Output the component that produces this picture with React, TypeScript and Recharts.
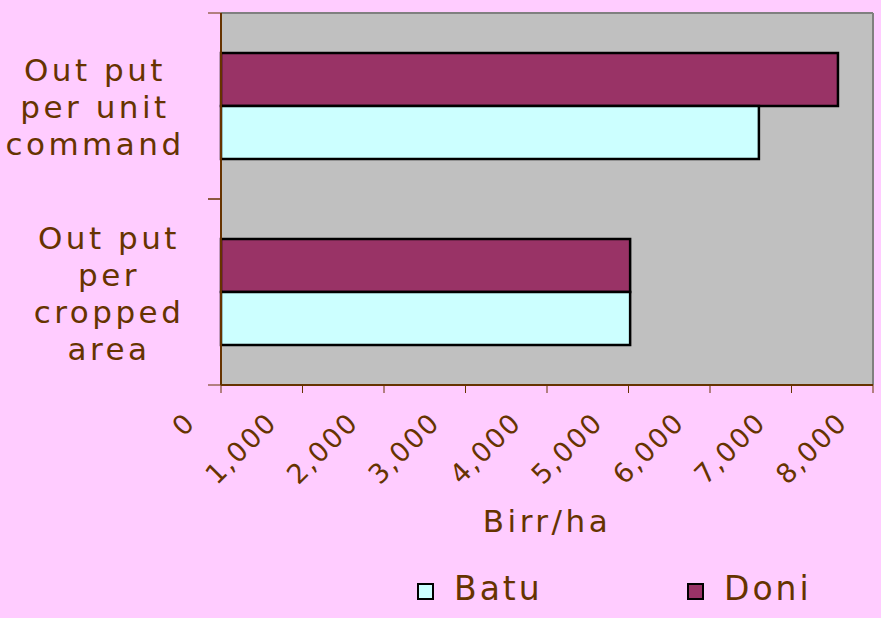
import { BarChart, Bar, XAxis, YAxis, Legend, CartesianGrid } from "recharts";

const CATEGORIES = ["Out put\nper unit\ncommand", "Out put\nper\ncropped\narea"];
const BATU = [6600, 5020];
const DONI = [7570, 5020];
const X_TICKS = [0, 1000, 2000, 3000, 4000, 5000, 6000, 7000, 8000];

const data = CATEGORIES.map((name, i) => ({ name, batu: BATU[i], doni: DONI[i] }));

const TEXT = "#663300";
const FONT = "'DejaVu Sans', Verdana, sans-serif";
const CHART_H = 618;
const MARGIN_TOP = 13;
const X_AXIS_H = 233;
const BAND = (CHART_H - MARGIN_TOP - X_AXIS_H) / CATEGORIES.length;

const XTick = ({ x, y, payload }: any) => (
  <text
    x={x - 24}
    y={y + 29}
    transform={`rotate(-45, ${x - 24}, ${y + 29})`}
    textAnchor="end"
    fill={TEXT}
    fontSize={27}
    letterSpacing={2}
    fontFamily={FONT}
  >
    {payload.value.toLocaleString("en-US")}
  </text>
);

const YTick = ({ y, payload, index }: any) => {
  const lines = String(payload.value).split("\n");
  const cx = index === 0 ? 95 : 109;
  return (
    <g>
      <line x1={208} x2={221} y1={y - BAND / 2} y2={y - BAND / 2} stroke={TEXT} />
      <line x1={208} x2={221} y1={y + BAND / 2} y2={y + BAND / 2} stroke={TEXT} />
      <text textAnchor="middle" fill={TEXT} fontSize={31} letterSpacing={3.5} fontFamily={FONT}>
        {lines.map((l, i) => (
          <tspan key={i} x={cx} y={y + (i - (lines.length - 1) / 2) * 37 + 12}>
            {l}
          </tspan>
        ))}
      </text>
    </g>
  );
};

const LegendBox = () => (
  <div style={{ position: "relative", height: 50, fontFamily: FONT, color: TEXT, fontSize: 33, letterSpacing: 3 }}>
    <span style={{ position: "absolute", left: 417, top: 17, width: 13, height: 13, background: "#ccffff", border: "2px solid #000" }} />
    <span style={{ position: "absolute", left: 454, top: 3, lineHeight: "40px" }}>Batu</span>
    <span style={{ position: "absolute", left: 687, top: 17, width: 13, height: 13, background: "#993366", border: "2px solid #000" }} />
    <span style={{ position: "absolute", left: 724, top: 3, lineHeight: "40px" }}>Doni</span>
  </div>
);

export default function App() {
  return (
    <div style={{ position: "absolute", left: 0, top: 0, width: 881, height: CHART_H, background: "#ffccff" }}>
      <BarChart
        width={881}
        height={CHART_H}
        data={data}
        layout="vertical"
        margin={{ top: MARGIN_TOP, right: 8, left: 0, bottom: 0 }}
        barCategoryGap="21.5%"
        barGap={0}
      >
        <CartesianGrid
          fill="#c0c0c0"
          stroke="#808080"
          strokeWidth={2}
          horizontalCoordinatesGenerator={({ offset }: any) => [offset.top]}
          verticalCoordinatesGenerator={({ offset }: any) => [offset.left + offset.width]}
        />
        <XAxis
          type="number"
          domain={[0, 8000]}
          ticks={X_TICKS}
          interval={0}
          height={X_AXIS_H}
          tick={<XTick />}
          tickSize={8}
          axisLine={{ stroke: TEXT, strokeWidth: 2 }}
          tickLine={{ stroke: TEXT }}
          label={{ value: "Birr/ha", position: "insideTop", dy: 120, fill: TEXT, fontSize: 31, letterSpacing: 3.5, fontFamily: FONT }}
        />
        <YAxis
          type="category"
          dataKey="name"
          width={221}
          tick={<YTick />}
          tickLine={false}
          axisLine={{ stroke: TEXT, strokeWidth: 2 }}
        />
        <Legend
          layout="vertical"
          align="center"
          verticalAlign="middle"
          wrapperStyle={{ position: "absolute", left: 0, top: 566, width: 881, height: 50 }}
          content={<LegendBox />}
        />
        <Bar dataKey="doni" fill="#993366" stroke="#000" strokeWidth={2.5} isAnimationActive={false} />
        <Bar dataKey="batu" fill="#ccffff" stroke="#000" strokeWidth={2.5} isAnimationActive={false} />
      </BarChart>
    </div>
  );
}
